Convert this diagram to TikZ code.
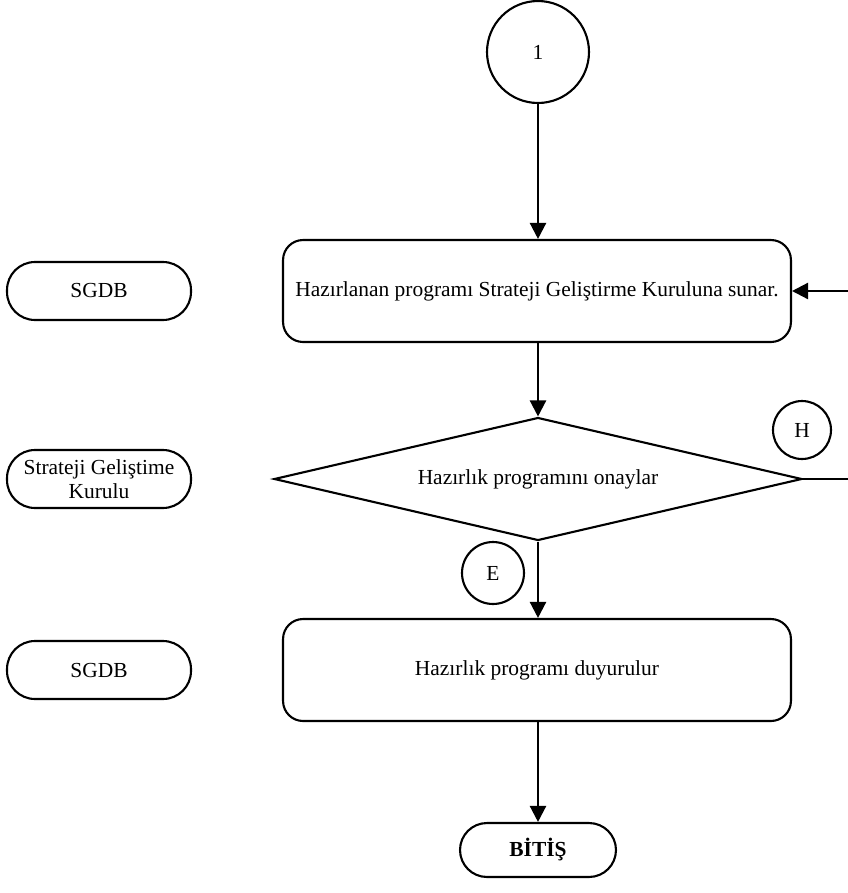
\documentclass[tikz,border=0pt]{standalone}
\usepackage{fontspec}
\setmainfont{Liberation Serif}
\usepackage{tikz}
\usetikzlibrary{shapes.geometric,arrows.meta}

\tikzset{
  every node/.style={font=\fontsize{12.2}{13.5}\selectfont},
  flow/.style={->,line width=1.3pt},
  stepbox/.style={draw,line width=1.2pt,rounded corners=0.4cm,
    minimum width=10.16cm,minimum height=2.04cm,inner sep=0},
  rolebox/.style={draw,line width=1.2pt,rounded corners=0.56cm,
    minimum width=3.68cm,minimum height=1.16cm,inner sep=0,align=center},
  mark circle/.style={draw,circle,line width=1.2pt,inner sep=0},
}

\begin{document}
\begin{tikzpicture}[x=0.02cm,y=-0.02cm,
    >={Triangle[length=0.32cm,width=0.32cm]}]
		\path[use as bounding box] (0,0) rectangle (848,893);
		\clip (0,0) rectangle (848,893);
		% start connector
		\node [mark circle,minimum size=2.04cm] (c1) at (538,52) {1};
		% step: present the programme
		\node [stepbox] (sunar) at (537,291)
			{Hazırlanan programı Strateji Geliştirme Kuruluna sunar.};
		\node [rolebox] (sgdb1) at (99,291) {SGDB};
		% decision
		\node [draw,diamond,aspect=4,line width=1.2pt,inner sep=0,
			minimum width=10.56cm,minimum height=2.46cm] (onay) at (538,479)
			{Hazırlık programını onaylar};
		\node [rolebox] (kurul) at (99,479) {Strateji Geliştime\\Kurulu};
		\node [mark circle,minimum size=1.16cm] (h) at (802,430) {H};
		\node [mark circle,minimum size=1.24cm] (e) at (493,573) {E};
		% step: announce
		\node [stepbox] (duyuru) at (537,670) {Hazırlık programı duyurulur};
		\node [rolebox] (sgdb2) at (99,670) {SGDB};
		% end
		\node [draw,line width=1.2pt,rounded corners=0.54cm,inner sep=0,
			minimum width=3.12cm,minimum height=1.08cm] (bitis) at (538,850)
			{\textbf{BİTİŞ}};
		\coordinate (back) at (890,291);
		% connectors
		\draw [flow] (c1) -- (sunar.north -| c1);
		\draw [flow] (sunar.south -| onay.north) -- (onay.north);
		\draw [flow] (onay.south) -- (duyuru.north -| onay.south);
		\draw [flow] (duyuru.south -| bitis.north) -- (bitis.north);
		\draw [flow] (onay.east) -| (back) -- (sunar.east);
	\end{tikzpicture}
\end{document}
